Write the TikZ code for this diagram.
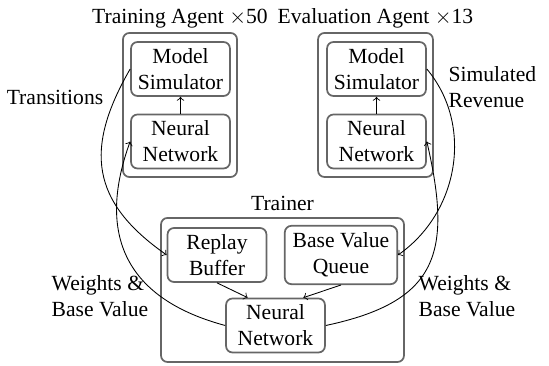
\documentclass[tikz,border=0pt]{standalone}
\usepackage{fontspec}
\setmainfont{Liberation Serif}
\tikzset{
  box/.style={draw=black!60, thick, rounded corners=3pt, align=center,
    minimum width=45.8pt, minimum height=25pt, inner sep=2pt},
  group/.style={draw=black!60, thick, rounded corners=3pt, minimum height=66.7pt},
  flow/.style={->, black}
}
\begin{document}
\begin{tikzpicture}[x=0.463pt, y=0.463pt, line join=round]
\useasboundingbox (0,0) rectangle (549,366);
\node[group, minimum width=52.8pt, label={[label distance=-1.5pt]above:Training Agent $\times$50}] (tagent) at (180,261) {};
\node[group, minimum width=53.2pt, label={[label distance=-1.5pt]above:Evaluation Agent $\times$13}] (eagent) at (375.5,261) {};
\node[group, minimum width=112.5pt, label={[label distance=-0.5pt]above:Trainer}] (trainer) at (282.5,76) {};

\node[box] (tms) at (180.5,297) {Model\\Simulator};
\node[box] (tnn) at (180.5,224.5) {Neural\\Network};
\node[box] (ems) at (376.5,297) {Model\\Simulator};
\node[box] (enn) at (376.5,224.5) {Neural\\Network};
\node[box] (rb) at (217,111) {Replay\\Buffer};
\node[box, minimum width=52pt, minimum height=27pt] (bvq) at (341,111) {Base Value\\Queue};
\node[box] (nn) at (275.5,40.5) {Neural\\Network};

\foreach \a in {t,e}
    \draw[flow] (\a nn) -- (\a ms);
\draw[flow] (rb.south) -- (nn.135);
\draw[flow] (bvq.south) -- (nn.45);

\draw[flow] (tms.west) to[out=240, in=145, looseness=1.25] (rb.west);
\draw[flow] (nn.west) to[out=165, in=250, looseness=1.25] (tnn.west);
\draw[flow] (ems.east) to[out=-50, in=35] (bvq.east);
\draw[flow] (nn.east) to[out=12, in=-77, looseness=1.4] (enn.east);

\node (trans) at (55,269) {Transitions};
\node[anchor=west, align=left] (simrev) at (441,279) {Simulated\\Revenue};
\node[anchor=west, align=left] (wleft) at (44,70) {Weights \&\\Base Value};
\node[anchor=west, align=left] (wright) at (411,70) {Weights \&\\Base Value};
\end{tikzpicture}
\end{document}
